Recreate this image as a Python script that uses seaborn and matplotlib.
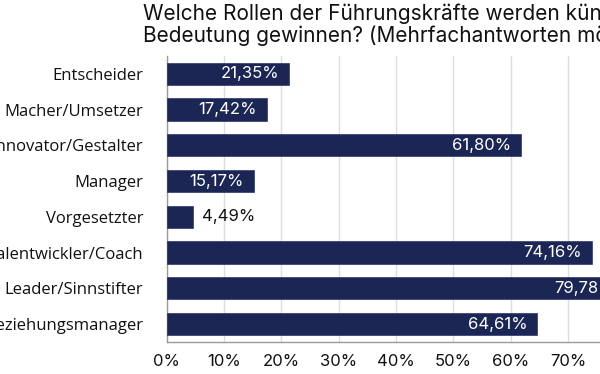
import numpy as np
import pandas as pd
import matplotlib
matplotlib.use("Agg")
import matplotlib.pyplot as plt
import seaborn as sns
from matplotlib.ticker import FixedLocator, PercentFormatter

# Daten
rollen = ["Entscheider", "Macher/Umsetzer", "Innovator/Gestalter", "Manager",
          "Vorgesetzter", "Talentwickler/Coach", "Leader/Sinnstifter",
          "Beziehungsmanager"]
anteile = [21.35, 17.42, 61.80, 15.17, 4.49, 74.16, 79.78, 64.61]
x_ticks = [0, 10, 20, 30, 40, 50, 60, 70, 80, 90]

titel = ("Welche Rollen der Führungskräfte werden künftig an\n"
         "Bedeutung gewinnen? (Mehrfachantworten möglich)")

df = pd.DataFrame({"Rolle": rollen, "Anteil": anteile})

sns.set_style("white")
plt.rcParams["font.family"] = ["Inter", "DejaVu Sans"]

fig = plt.figure(figsize=(6, 3.74), dpi=100)
# Achse ragt rechts aus dem Bild heraus (wie im Original abgeschnitten)
ax = fig.add_axes([0.278, 0.0856, 1.138 - 0.278, 0.765])

sns.barplot(data=df, x="Anteil", y="Rolle", orient="h", color="#13205e",
            width=0.62, edgecolor="#2a3670", linewidth=0.5, ax=ax, zorder=3)

ax.set_xlim(0, 90)
ax.set_ylim(7.5, -0.5)
ax.set_xlabel("")
ax.set_ylabel("")

ax.xaxis.set_major_locator(FixedLocator(x_ticks))
ax.xaxis.set_major_formatter(PercentFormatter(decimals=0))
ax.grid(axis="x", color="#dedede", linewidth=1, zorder=0)
ax.grid(axis="y", visible=False)

ax.yaxis.set_minor_locator(FixedLocator(np.arange(-0.5, len(rollen), 1)))
ax.tick_params(axis="y", which="major", length=0, pad=17)
ax.tick_params(axis="y", which="minor", length=5, width=1, color="#9a9a9a")
ax.tick_params(axis="x", which="major", length=5, width=1, color="#9a9a9a",
               pad=4, labelsize=12, labelcolor="#111111")
for lbl in ax.get_yticklabels():
    lbl.set_fontfamily(["Open Sans", "DejaVu Sans"])
    lbl.set_fontsize(12)
    lbl.set_color("#111111")

for s in ["top", "right"]:
    ax.spines[s].set_visible(False)
for s in ["left", "bottom"]:
    ax.spines[s].set_color("#9a9a9a")
    ax.spines[s].set_linewidth(1)

# Wertelabels
for i, v in enumerate(anteile):
    txt = f"{v:.2f}".replace(".", ",") + "%"
    if v < 10:
        ax.annotate(txt, (v, i), xytext=(7, 0), textcoords="offset points",
                    ha="left", va="center", fontsize=12, color="#111111",
                    zorder=4)
    else:
        ax.annotate(txt, (v, i), xytext=(-7, 0), textcoords="offset points",
                    ha="right", va="center", fontsize=12, color="white",
                    zorder=4)

fig.text(143 / 600, 1 - 3 / 374, titel, ha="left", va="top", fontsize=15,
         color="#111111", linespacing=1.12)

fig.savefig("out.png", dpi=100)
